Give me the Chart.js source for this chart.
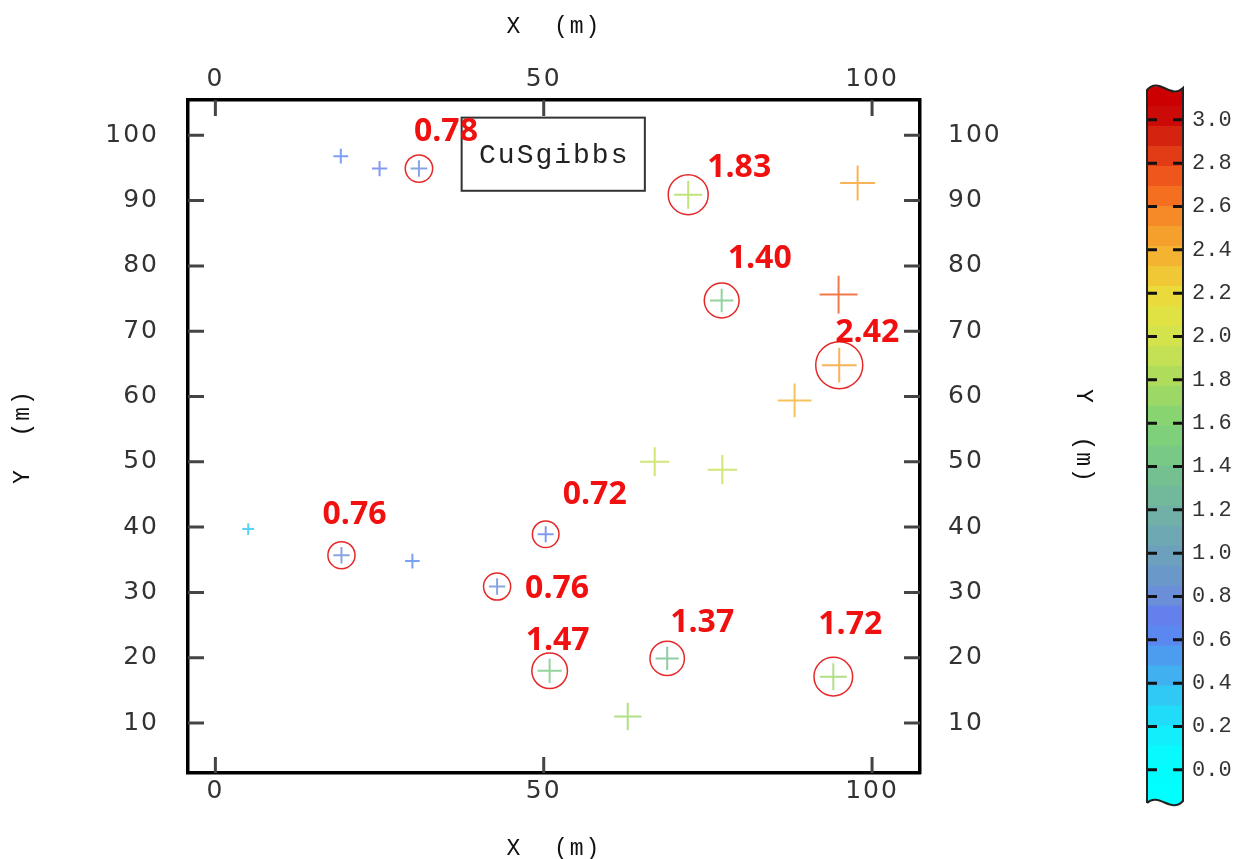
<!DOCTYPE html>
<html lang="en">
<head>
<meta charset="utf-8">
<title>CuSgibbs sample map</title>
<script src="https://cdn.jsdelivr.net/npm/chart.js"></script>
<style>
    body { margin: 0; background: #fff; }
    #wrap { position: relative; width: 1235px; height: 859px; }
    #wrap canvas { position: absolute; top: 0; }
    #main { left: 0; }
    #cbar { left: 1100px; }
</style>
</head>
<body>
<div id="wrap">
    <canvas id="main" width="1235" height="859"></canvas>
    <canvas id="cbar" width="135" height="859"></canvas>
</div>

<script>
    // sample locations (m) and measured value
    const ptX   = [19.1, 25.0, 31.0, 72.0, 97.8, 77.1, 94.9, 95.0, 88.2, 66.9, 77.2,  5.0, 19.2, 30.0, 50.3, 42.9, 50.9, 68.8, 94.1, 62.8];
    const ptY   = [96.8, 94.9, 94.9, 90.9, 92.7, 74.7, 75.6, 64.8, 59.4, 50.0, 48.8, 39.7, 35.7, 34.8, 38.9, 30.9, 18.0, 19.9, 17.1, 11.0];
    const ptVal = [0.62, 0.66, 0.78, 1.83, 2.45, 1.40, 2.72, 2.42, 2.35, 1.92, 1.95, 0.35, 0.76, 0.60, 0.72, 0.76, 1.47, 1.37, 1.72, 1.76];

    // circled samples that get a value label
    const markedIdx = [2, 3, 5, 7, 12, 14, 15, 16, 17, 18];

    // axis ranges and tick steps
    const xRange = [-4.17, 107.3];
    const yRange = [2.35, 105.4];
    const xStep = 50;
    const yStep = 10;

    // colour scale, bottom to top
    const cbarRange = [-0.19, 3.17];
    const bandRange = [-0.17, 3.15];
    const cbarStep = 0.2;
    const bandColors = [
        '#00ffff', '#02fdfe', '#08fafe', '#12eefc', '#20dcf8', '#30c8f4', '#40b0f0', '#4c9cf0', '#5a88f0',
        '#6480ec', '#6a8ed8', '#6a98c8', '#6ca0bc', '#6ea8b2', '#70b0a6', '#72b89a', '#74c090', '#78c886',
        '#7ed07a', '#88d470', '#9cd866', '#b0dc5c', '#c4e054', '#d4e24c', '#e0e244', '#eada3c', '#f0c836',
        '#f4b432', '#f5a02c', '#f58a26', '#f47020', '#ee561c', '#e23c16', '#d42410', '#cc0a08', '#cc0000'
    ];

    // label placement relative to its point (px), same order as markedIdx
    const labelShift = [[27, -37], [51, -27], [38, -42], [28, -32], [13, -40], [49, -39], [60, 2], [8, -30], [35, -35], [17, -52]];

    const bandW = (bandRange[1] - bandRange[0]) / bandColors.length;
    const colorFor = v => {
        const i = Math.floor((v - bandRange[0]) / bandW);
        return bandColors[Math.max(0, Math.min(bandColors.length - 1, i))];
    };
    const fade = (hex, a) => {
        const n = parseInt(hex.slice(1), 16);
        return `rgba(${n >> 16}, ${(n >> 8) & 255}, ${n & 255}, ${a})`;
    };

    const tickFont = { family: 'DejaVu Sans', size: 25 };
    const titleFont = { family: 'Liberation Mono', size: 23, lineHeight: 0.8 };

    function axis(pos, range, step, size, titlePad, tickPad) {
        const vertical = pos === 'left' || pos === 'right';
        return {
            type: 'linear',
            axis: vertical ? 'y' : 'x',
            position: pos,
            min: range[0],
            max: range[1],
            grid: { display: false, drawTicks: false },
            border: { display: true, color: '#000', width: 3.5 },
            ticks: { stepSize: step, includeBounds: false, padding: tickPad, font: tickFont, color: '#333', maxRotation: 0 },
            title: { display: true, text: vertical ? 'Y  (m)' : 'X  (m)', font: titleFont, color: '#111', padding: titlePad },
            afterFit(s) { if (vertical) s.width = size; else s.height = size; }
        };
    }

    // tick marks pointing into the frame
    const innerTicks = {
        id: 'innerTicks',
        afterDraw(chart) {
            const { ctx, chartArea: a, scales } = chart;
            const len = 16;
            ctx.save();
            ctx.letterSpacing = '0px';
            ctx.strokeStyle = '#444';
            ctx.lineWidth = 3;
            ctx.beginPath();
            scales.x.ticks.forEach(t => {
                const p = scales.x.getPixelForValue(t.value);
                ctx.moveTo(p, a.bottom); ctx.lineTo(p, a.bottom - len);
            });
            scales.x2.ticks.forEach(t => {
                const p = scales.x2.getPixelForValue(t.value);
                ctx.moveTo(p, a.top); ctx.lineTo(p, a.top + len);
            });
            scales.y.ticks.forEach(t => {
                const p = scales.y.getPixelForValue(t.value);
                ctx.moveTo(a.left, p); ctx.lineTo(a.left + len, p);
            });
            scales.y2.ticks.forEach(t => {
                const p = scales.y2.getPixelForValue(t.value);
                ctx.moveTo(a.right, p); ctx.lineTo(a.right - len, p);
            });
            ctx.stroke();
            ctx.restore();
        }
    };

    // wider letter spacing for the axis text
    const spacing = {
        id: 'spacing',
        beforeDraw(chart) { chart.ctx.letterSpacing = '2px'; },
        afterDraw(chart) { chart.ctx.letterSpacing = '0px'; }
    };

    // "CuSgibbs" name box and the red value labels
    const notes = {
        id: 'notes',
        afterDatasetsDraw(chart) {
            const { ctx, scales: { x, y } } = chart;
            ctx.save();
            const bx0 = x.getPixelForValue(37.5), bx1 = x.getPixelForValue(65.4);
            const by0 = y.getPixelForValue(102.7), by1 = y.getPixelForValue(91.5);
            ctx.fillStyle = '#fff';
            ctx.fillRect(bx0, by0, bx1 - bx0, by1 - by0);
            ctx.strokeStyle = '#333';
            ctx.lineWidth = 2;
            ctx.strokeRect(bx0, by0, bx1 - bx0, by1 - by0);
            ctx.letterSpacing = '2px';
            ctx.fillStyle = '#222';
            ctx.font = '28px "Liberation Mono"';
            ctx.textAlign = 'center';
            ctx.textBaseline = 'middle';
            ctx.fillText('CuSgibbs', (bx0 + bx1) / 2 + 1, (by0 + by1) / 2 + 1);

            ctx.letterSpacing = '0px';
            ctx.fillStyle = '#f01010';
            ctx.font = 'bold 32px "Open Sans"';
            const ring = chart.getDatasetMeta(1).data;
            markedIdx.forEach((idx, k) => {
                const el = ring[k];
                ctx.fillText(ptVal[idx].toFixed(2), el.x + labelShift[k][0], el.y + labelShift[k][1]);
            });
            ctx.restore();
        }
    };

    new Chart(document.getElementById('main'), {
        type: 'scatter',
        data: {
            datasets: [
                {
                    data: ptX.map((v, i) => ({ x: v, y: ptY[i] })),
                    pointStyle: 'cross',
                    pointRadius: ptVal.map(v => 4 + 5.5 * v),
                    borderColor: ptVal.map(v => fade(colorFor(v), 0.8)),
                    borderWidth: 2,
                    xAxisID: 'x', yAxisID: 'y'
                },
                {
                    data: markedIdx.map(i => ({ x: ptX[i], y: ptY[i] })),
                    pointStyle: 'circle',
                    pointRadius: markedIdx.map(i => 9 + 6 * ptVal[i]),
                    backgroundColor: 'rgba(0,0,0,0)',
                    borderColor: '#e62828',
                    borderWidth: 1.5,
                    xAxisID: 'x', yAxisID: 'y'
                }
            ]
        },
        options: {
            responsive: false,
            animation: false,
            events: [],
            layout: { padding: { left: 0, right: 105, top: 0, bottom: 0 } },
            plugins: { legend: { display: false }, tooltip: { enabled: false } },
            scales: {
                x: axis('bottom', xRange, xStep, 86, { top: 0, bottom: 1 }, 3.2),
                x2: axis('top', xRange, xStep, 100, { top: 17.8, bottom: 0 }, 5.2),
                y: axis('left', yRange, yStep, 188, { top: 13.8, bottom: 0 }, 29),
                y2: axis('right', yRange, yStep, 210, { top: 37.8, bottom: 0 }, 28)
            }
        },
        plugins: [spacing, innerTicks, notes]
    });

    // colour bar: outline with wavy ends and dash ticks
    const cbarFrame = {
        id: 'cbarFrame',
        afterDraw(chart) {
            const { ctx, chartArea: a, scales: { y } } = chart;
            const L = a.left, R = a.right;
            const topL = 90, topR = 88, botL = 803, botR = 801;
            ctx.save();
            ctx.fillStyle = '#fff';
            ctx.beginPath();
            ctx.moveTo(L, topL);
            ctx.bezierCurveTo(L + 12, 76, L + 24, 100, R, topR);
            ctx.lineTo(R + 2, topR); ctx.lineTo(R + 2, a.top - 2); ctx.lineTo(L - 2, a.top - 2); ctx.lineTo(L - 2, topL);
            ctx.closePath();
            ctx.fill();
            ctx.beginPath();
            ctx.moveTo(L, botL);
            ctx.bezierCurveTo(L + 12, 792, L + 24, 814, R, botR);
            ctx.lineTo(R + 2, botR); ctx.lineTo(R + 2, a.bottom + 2); ctx.lineTo(L - 2, a.bottom + 2); ctx.lineTo(L - 2, botL);
            ctx.closePath();
            ctx.fill();

            ctx.strokeStyle = '#111';
            ctx.lineWidth = 3;
            ctx.beginPath();
            y.ticks.forEach(t => {
                const p = y.getPixelForValue(t.value);
                ctx.moveTo(L, p); ctx.lineTo(L + 10, p);
                ctx.moveTo(R - 10, p); ctx.lineTo(R, p);
            });
            ctx.stroke();

            ctx.strokeStyle = '#222';
            ctx.lineWidth = 2;
            ctx.beginPath();
            ctx.moveTo(L, botL);
            ctx.lineTo(L, topL);
            ctx.bezierCurveTo(L + 12, 76, L + 24, 100, R, topR);
            ctx.lineTo(R, botR);
            ctx.bezierCurveTo(L + 24, 814, L + 12, 792, L, botL);
            ctx.stroke();
            ctx.restore();
        }
    };

    new Chart(document.getElementById('cbar'), {
        type: 'bar',
        data: {
            labels: [''],
            datasets: bandColors.map((c, i) => ({
                data: [[bandRange[0] + i * bandW, bandRange[0] + (i + 1) * bandW + 0.004]],
                backgroundColor: c,
                borderWidth: 0,
                grouped: false,
                barPercentage: 1,
                categoryPercentage: 1
            }))
        },
        options: {
            responsive: false,
            animation: false,
            events: [],
            layout: { padding: { left: 47, right: 0, top: 83, bottom: 48 } },
            plugins: { legend: { display: false }, tooltip: { enabled: false } },
            scales: {
                x: { display: false },
                y: {
                    position: 'right',
                    min: cbarRange[0],
                    max: cbarRange[1],
                    grid: { display: false, drawTicks: false },
                    border: { display: false },
                    ticks: {
                        stepSize: cbarStep,
                        includeBounds: false,
                        padding: 9,
                        color: '#333',
                        font: { family: 'Liberation Mono', size: 22 },
                        callback: v => v.toFixed(1)
                    },
                    afterFit(s) { s.width = 52; }
                }
            }
        },
        plugins: [cbarFrame]
    });
</script>
</body>
</html>
